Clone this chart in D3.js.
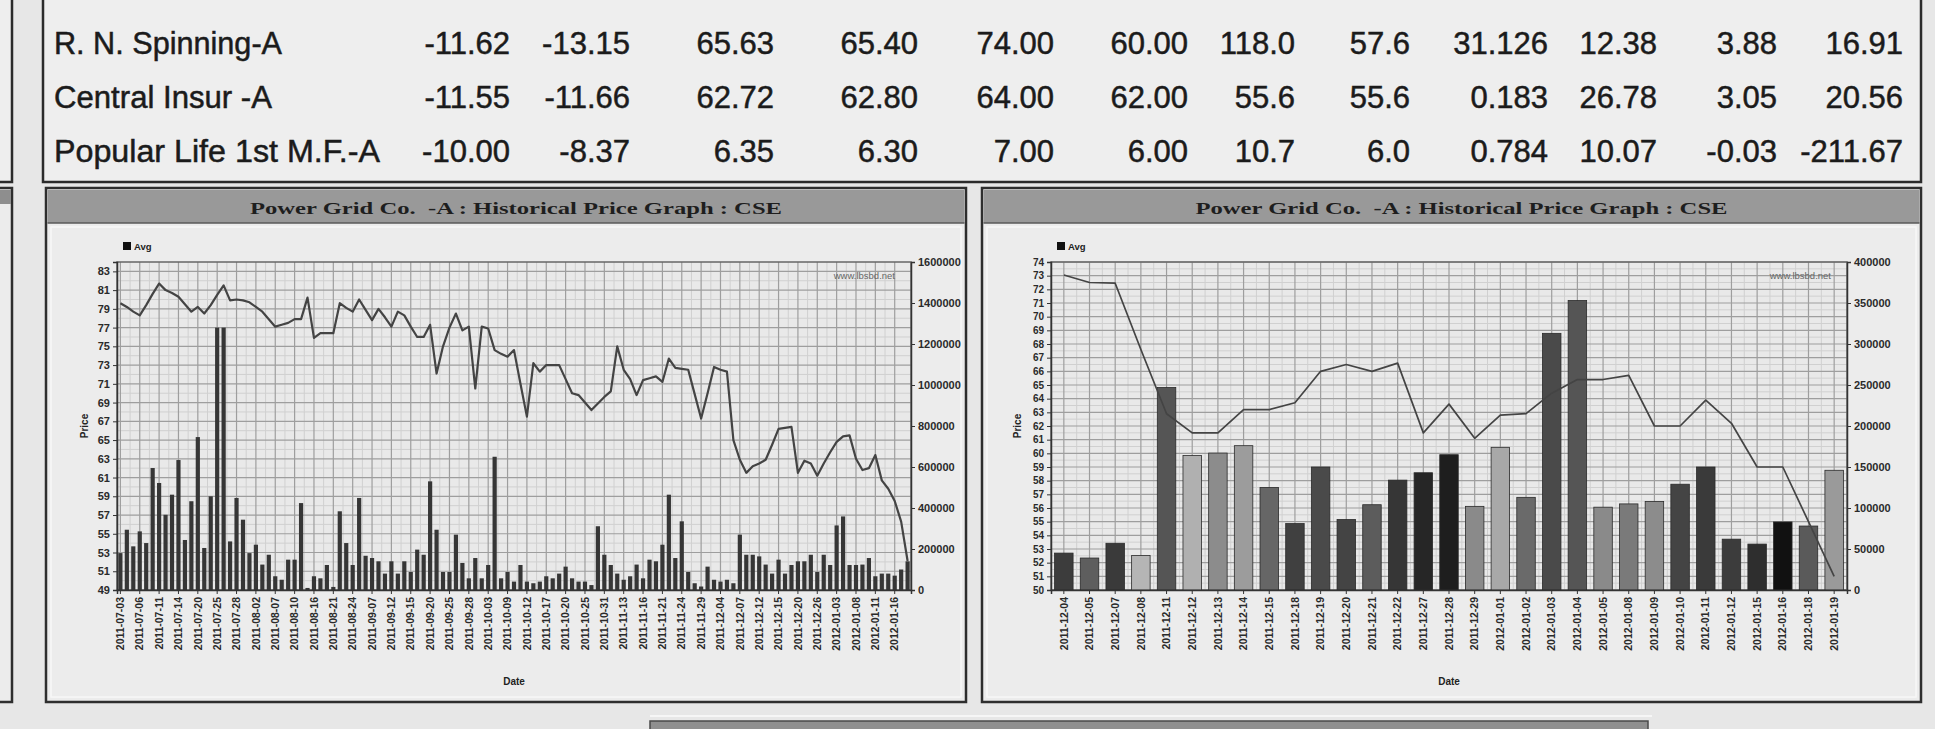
<!DOCTYPE html>
<html><head><meta charset="utf-8">
<script src="https://cdn.jsdelivr.net/npm/d3@7/dist/d3.min.js"></script>
<style>body{margin:0;background:#e7e7e7;overflow:hidden}svg{display:block}</style>
</head><body>
<svg id="c" width="1935" height="729"></svg>
<script>
// ---------------- DATA ----------------
const tableNames = ["R. N. Spinning-A", "Central Insur -A", "Popular Life 1st M.F.-A"];
const tableRow1 = ["-11.62","-13.15","65.63","65.40","74.00","60.00","118.0","57.6","31.126","12.38","3.88","16.91"];
const tableRow2 = ["-11.55","-11.66","62.72","62.80","64.00","62.00","55.6","55.6","0.183","26.78","3.05","20.56"];
const tableRow3 = ["-10.00","-8.37","6.35","6.30","7.00","6.00","10.7","6.0","0.784","10.07","-0.03","-211.67"];

const chartTitle = "Power Grid Co.  -A : Historical Price Graph : CSE";

const leftDates = [
"2011-07-03","2011-07-04","2011-07-05","2011-07-06","2011-07-07","2011-07-10","2011-07-11","2011-07-12","2011-07-13","2011-07-14",
"2011-07-18","2011-07-19","2011-07-20","2011-07-21","2011-07-24","2011-07-25","2011-07-26","2011-07-27","2011-07-28","2011-07-31",
"2011-08-01","2011-08-02","2011-08-03","2011-08-04","2011-08-07","2011-08-08","2011-08-09","2011-08-10","2011-08-11","2011-08-14",
"2011-08-16","2011-08-17","2011-08-18","2011-08-21","2011-08-22","2011-08-23","2011-08-24","2011-09-05","2011-09-06","2011-09-07",
"2011-09-08","2011-09-11","2011-09-12","2011-09-13","2011-09-14","2011-09-15","2011-09-18","2011-09-19","2011-09-20","2011-09-21",
"2011-09-22","2011-09-25","2011-09-26","2011-09-27","2011-09-28","2011-09-29","2011-10-02","2011-10-03","2011-10-04","2011-10-05",
"2011-10-09","2011-10-10","2011-10-11","2011-10-12","2011-10-13","2011-10-16","2011-10-17","2011-10-18","2011-10-19","2011-10-20",
"2011-10-23","2011-10-24","2011-10-25","2011-10-26","2011-10-27","2011-10-31","2011-11-01","2011-11-02","2011-11-13","2011-11-14",
"2011-11-15","2011-11-16","2011-11-17","2011-11-20","2011-11-21","2011-11-22","2011-11-23","2011-11-24","2011-11-27","2011-11-28",
"2011-11-29","2011-11-30","2011-12-01","2011-12-04","2011-12-05","2011-12-06","2011-12-07","2011-12-08","2011-12-11","2011-12-12",
"2011-12-13","2011-12-14","2011-12-15","2011-12-18","2011-12-19","2011-12-20","2011-12-21","2011-12-22","2011-12-26","2011-12-27",
"2011-12-28","2012-01-03","2012-01-04","2012-01-05","2012-01-08","2012-01-09","2012-01-10","2012-01-11","2012-01-12","2012-01-15",
"2012-01-16","2012-01-17","2012-01-18"];
const leftAvg = [
79.6,79.2,78.7,78.3,79.4,80.6,81.7,81.0,80.7,80.3,
79.5,78.7,79.2,78.5,79.4,80.5,81.5,79.9,80.0,79.9,
79.7,79.2,78.7,77.9,77.1,77.3,77.5,77.9,77.9,80.2,
75.9,76.4,76.4,76.4,79.6,79.1,78.7,80.0,78.9,77.8,
79.0,78.1,77.1,78.7,78.3,77.1,76.0,76.0,77.3,72.1,
75.0,77.0,78.5,76.7,77.1,70.5,77.1,76.9,74.6,74.2,
73.9,74.6,71.0,67.5,73.2,72.3,73.0,73.0,73.0,71.5,
70.0,69.8,69.0,68.2,68.9,69.6,70.2,75.0,72.5,71.5,
69.8,71.4,71.6,71.8,71.2,73.7,72.7,72.6,72.5,69.9,
67.3,70.0,72.8,72.5,72.3,65.0,62.9,61.5,62.2,62.5,
62.9,64.5,66.2,66.3,66.4,61.5,62.8,62.5,61.2,62.5,
63.7,64.8,65.4,65.5,63.0,61.8,62.0,63.4,60.7,59.8,
58.5,56.3,52.1];
const leftVolume = [
180000,294000,213000,286000,229000,595000,522000,367000,465000,634000,
244000,433000,746000,205000,457000,1280000,1280000,237000,449000,343000,
180000,221000,124000,172000,67000,50000,148000,148000,424000,10000,
67000,57000,122000,15000,384000,229000,122000,449000,167000,156000,
140000,80000,140000,80000,140000,88000,197000,172000,530000,294000,
88000,88000,270000,132000,57000,156000,57000,122000,650000,57000,
88000,41000,122000,41000,33000,41000,67000,57000,80000,114000,
57000,41000,41000,24000,311000,172000,122000,80000,50000,67000,
124000,57000,148000,140000,221000,465000,156000,335000,88000,33000,
17000,114000,50000,41000,50000,33000,270000,172000,172000,164000,
124000,80000,148000,80000,122000,140000,140000,172000,88000,172000,
122000,315000,359000,122000,122000,124000,156000,67000,80000,80000,
70000,100000,140000];
const leftPriceTicks = [49,51,53,55,57,59,61,63,65,67,69,71,73,75,77,79,81,83];
const leftVolumeTicks = [0,200000,400000,600000,800000,1000000,1200000,1400000,1600000];

const rightDates = ["2011-12-04","2011-12-05","2011-12-07","2011-12-08","2011-12-11","2011-12-12","2011-12-13","2011-12-14",
"2011-12-15","2011-12-18","2011-12-19","2011-12-20","2011-12-21","2011-12-22","2011-12-27","2011-12-28","2011-12-29",
"2012-01-01","2012-01-02","2012-01-03","2012-01-04","2012-01-05","2012-01-08","2012-01-09","2012-01-10","2012-01-11",
"2012-01-12","2012-01-15","2012-01-16","2012-01-18","2012-01-19"];
const rightAvg = [73.05,72.5,72.45,67.6,62.9,61.5,61.5,63.2,63.2,63.7,66.0,66.5,66.0,66.6,61.5,63.6,61.1,
62.8,62.9,64.4,65.4,65.4,65.7,62.0,62.0,63.9,62.2,59.0,59.0,55.0,51.0];
const rightVolume = [45000,39000,57000,42000,247000,164000,167000,176000,125000,81000,150000,86000,104000,134000,143000,165000,102000,
174000,113000,313000,353000,101000,105000,108000,129000,150000,62000,56000,83000,78000,146000];
const rightPriceTicks = [50,51,52,53,54,55,56,57,58,59,60,61,62,63,64,65,66,67,68,69,70,71,72,73,74];
const rightVolumeTicks = [0,50000,100000,150000,200000,250000,300000,350000,400000];

// palette (style, not data)
const rightBarColors = ["#3c3c3c","#5e5e5e","#3a3a3a","#b5b5b5","#555555","#b0b0b0","#8c8c8c","#9c9c9c","#666666","#404040",
"#4a4a4a","#444444","#5c5c5c","#363636","#262626","#1e1e1e","#8a8a8a","#a8a8a8","#6a6a6a","#4a4a4a","#555555","#8a8a8a",
"#7a7a7a","#8c8c8c","#444444","#3a3a3a","#3c3c3c","#2e2e2e","#111111","#5a5a5a","#9a9a9a"];

// ---------------- DRAW ----------------
const svg = d3.select("#c");
svg.append("rect").attr("width",1935).attr("height",729).attr("fill","#e7e7e7");

// left slivers of neighbouring boxes
svg.append("rect").attr("x",-10).attr("y",-6).attr("width",22).attr("height",188)
  .attr("fill","#eeeeee").attr("stroke","#2b2b2b").attr("stroke-width",2.5);
svg.append("rect").attr("x",-10).attr("y",188).attr("width",22).attr("height",514)
  .attr("fill","#ececec").attr("stroke","#2e2e2e").attr("stroke-width",2.5);
svg.append("rect").attr("x",-10).attr("y",190).attr("width",21).attr("height",14).attr("fill","#8e8e8e");

// table
const tg = svg.append("g");
tg.append("rect").attr("x",43).attr("y",-6).attr("width",1878).attr("height",188)
  .attr("fill","#eeeeee").attr("stroke","#2b2b2b").attr("stroke-width",2.5);
const colRight = [510,630,774,918,1054,1188,1295,1410,1548,1657,1777,1903];
const rowBase = [54,108,162];
function tText(sel){
  return sel.attr("font-family","Liberation Sans, Arial, sans-serif").attr("font-size",31)
    .attr("fill","#1b1b1b").attr("stroke","#1b1b1b").attr("stroke-width",0.5);
}
[tableRow1,tableRow2,tableRow3].forEach((row,r)=>{
  tText(tg.append("text").attr("x",54).attr("y",rowBase[r]).text(tableNames[r]))
    .attr("textLength", [228,218,326][r]).attr("lengthAdjust","spacingAndGlyphs");
  row.forEach((v,c)=>{
    tText(tg.append("text").attr("x",colRight[c]).attr("y",rowBase[r]).attr("text-anchor","end").text(v));
  });
});

function drawChart(cfg){
  const g = svg.append("g");
  g.append("rect").attr("x",cfg.px).attr("y",188).attr("width",cfg.pw).attr("height",514)
    .attr("fill","#ececec").attr("stroke","#2e2e2e").attr("stroke-width",2.5);
  g.append("rect").attr("x",cfg.px+1.5).attr("y",190).attr("width",cfg.pw-3).attr("height",33).attr("fill","#999999");
  g.append("line").attr("x1",cfg.px+1.5).attr("x2",cfg.px+cfg.pw-1.5).attr("y1",223).attr("y2",223)
    .attr("stroke","#5a5a5a").attr("stroke-width",1.5);
  g.append("text").attr("x",cfg.px+cfg.pw/2+10).attr("y",214).attr("text-anchor","middle")
    .attr("font-family","Liberation Serif, Times New Roman, serif").attr("font-weight","bold")
    .attr("font-size",17).attr("fill","#1e1e1e").attr("textLength",532).attr("lengthAdjust","spacingAndGlyphs")
    .style("white-space","pre").attr("xml:space","preserve")
    .text(chartTitle);
  g.append("rect").attr("x",cfg.px+5).attr("y",227).attr("width",cfg.pw-10).attr("height",470)
    .attr("fill","none").attr("stroke","#f7f7f7").attr("stroke-width",1.5);

  const x = d3.scaleBand().domain(cfg.dates).range([cfg.l,cfg.r]).paddingInner(cfg.pi).paddingOuter(cfg.po);
  const yP = d3.scaleLinear().domain(cfg.pDom).range([cfg.b,cfg.t]);
  const yV = d3.scaleLinear().domain(cfg.vDom).range([cfg.b,cfg.t]);
  const bw = x.bandwidth();
  const tickDates = cfg.dates.filter((d,i)=>i%cfg.every===0);

  g.append("rect").attr("x",cfg.l).attr("y",cfg.t).attr("width",cfg.r-cfg.l).attr("height",cfg.b-cfg.t).attr("fill","#e9e9e9");
  // minor grid
  const xs = tickDates.map(d=>x(d)+bw/2);
  const minorX = xs.slice(0,-1).map((v,i)=>(v+xs[i+1])/2);
  const pt = cfg.pTicks;
  const minorY = pt.slice(0,-1).map((v,i)=>(v+pt[i+1])/2);
  g.selectAll(null).data(minorX).join("line").attr("x1",d=>d).attr("x2",d=>d).attr("y1",cfg.t).attr("y2",cfg.b)
    .attr("stroke","#d0d0d0").attr("stroke-width",1);
  g.selectAll(null).data(minorY).join("line").attr("y1",d=>yP(d)).attr("y2",d=>yP(d)).attr("x1",cfg.l).attr("x2",cfg.r)
    .attr("stroke","#d0d0d0").attr("stroke-width",1);
  // major grid
  g.selectAll(null).data(xs).join("line").attr("x1",d=>d).attr("x2",d=>d).attr("y1",cfg.t).attr("y2",cfg.b)
    .attr("stroke","#9e9e9e").attr("stroke-width",1.2);
  g.selectAll(null).data(pt).join("line").attr("y1",d=>yP(d)).attr("y2",d=>yP(d)).attr("x1",cfg.l).attr("x2",cfg.r)
    .attr("stroke","#9e9e9e").attr("stroke-width",1.2);
  g.append("rect").attr("x",cfg.l).attr("y",cfg.t).attr("width",cfg.r-cfg.l).attr("height",cfg.b-cfg.t)
    .attr("fill","none").attr("stroke","#666").attr("stroke-width",1.5);

  // watermark
  g.append("text").attr("x",cfg.r-16).attr("y",cfg.t+17).attr("text-anchor","end")
    .attr("font-family","Liberation Sans, Arial, sans-serif").attr("font-size",9.5).attr("fill","#666").text("www.lbsbd.net");

  // bars
  g.selectAll(null).data(cfg.vol).join("rect")
    .attr("x",(d,i)=>x(cfg.dates[i])).attr("width",bw)
    .attr("y",d=>yV(d)).attr("height",d=>yV(0)-yV(d))
    .attr("fill",(d,i)=>cfg.colors ? cfg.colors[i] : "#363636")
    .attr("stroke",cfg.colors ? "#2a2a2a" : "none").attr("stroke-width",0.8);

  // price line
  const line = d3.line().x((d,i)=>x(cfg.dates[i])+bw/2).y(d=>yP(d));
  g.append("path").datum(cfg.avg).attr("d",line).attr("fill","none")
    .attr("stroke","#444").attr("stroke-width",cfg.lw).attr("stroke-linejoin","round");

  // axes
  const fontAx = "Liberation Sans, Arial, sans-serif";
  const ax1 = g.append("g").attr("transform",`translate(${cfg.l},0)`)
    .call(d3.axisLeft(yP).tickValues(cfg.pTicks).tickSize(4).tickFormat(d3.format("d")));
  const ax2 = g.append("g").attr("transform",`translate(${cfg.r},0)`)
    .call(d3.axisRight(yV).tickValues(cfg.vTicks).tickSize(4).tickFormat(d3.format("d")));
  const ax3 = g.append("g").attr("transform",`translate(0,${cfg.b})`)
    .call(d3.axisBottom(x).tickValues(tickDates).tickSize(4));
  [ax1,ax2,ax3].forEach(a=>{
    a.select(".domain").attr("stroke","#333").attr("stroke-width",1.5);
    a.selectAll(".tick line").attr("stroke","#333");
    a.selectAll("text").attr("font-family",fontAx).attr("font-weight","bold").attr("fill","#2a2a2a");
  });
  ax1.selectAll("text").attr("font-size",cfg.pFont);
  ax2.selectAll("text").attr("font-size",11);
  ax3.selectAll("text").attr("font-size",10.5).attr("transform","rotate(-90)")
    .attr("x",-7).attr("y",0).attr("dy","0.35em").attr("text-anchor","end");

  // titles
  g.append("text").attr("transform",`translate(${cfg.l-cfg.pOff},${(cfg.t+cfg.b)/2}) rotate(-90)`)
    .attr("text-anchor","middle").attr("font-family",fontAx).attr("font-weight","bold").attr("font-size",10)
    .attr("fill","#222").text("Price");
  g.append("text").attr("x",(cfg.l+cfg.r)/2).attr("y",685).attr("text-anchor","middle")
    .attr("font-family",fontAx).attr("font-weight","bold").attr("font-size",10).attr("fill","#222").text("Date");

  // legend
  g.append("rect").attr("x",cfg.l+6).attr("y",242).attr("width",8).attr("height",8).attr("fill","#111");
  g.append("text").attr("x",cfg.l+17).attr("y",250).attr("font-family",fontAx).attr("font-weight","bold")
    .attr("font-size",9.5).attr("fill","#222").text("Avg");
}

drawChart({px:46,pw:920,l:117,r:911,t:262,b:590,dates:leftDates,avg:leftAvg,vol:leftVolume,
  pDom:[49,84],vDom:[0,1600000],pTicks:leftPriceTicks,vTicks:leftVolumeTicks,every:3,pi:0.35,po:0.2,
  colors:null,lw:2.2,pFont:11,pOff:29});
drawChart({px:982,pw:939,l:1051,r:1847,t:262,b:590,dates:rightDates,avg:rightAvg,vol:rightVolume,
  pDom:[50,74],vDom:[0,400000],pTicks:rightPriceTicks,vTicks:rightVolumeTicks,every:1,pi:0.28,po:0.14,
  colors:rightBarColors,lw:1.7,pFont:10,pOff:30});

// bottom partial element
svg.append("line").attr("x1",650).attr("x2",1652).attr("y1",716).attr("y2",716).attr("stroke","#f6f6f6").attr("stroke-width",2);
svg.append("rect").attr("x",650).attr("y",721).attr("width",998).attr("height",12)
  .attr("fill","#8f8f8f").attr("stroke","#4a4a4a").attr("stroke-width",1.5);
</script>
</body></html>
